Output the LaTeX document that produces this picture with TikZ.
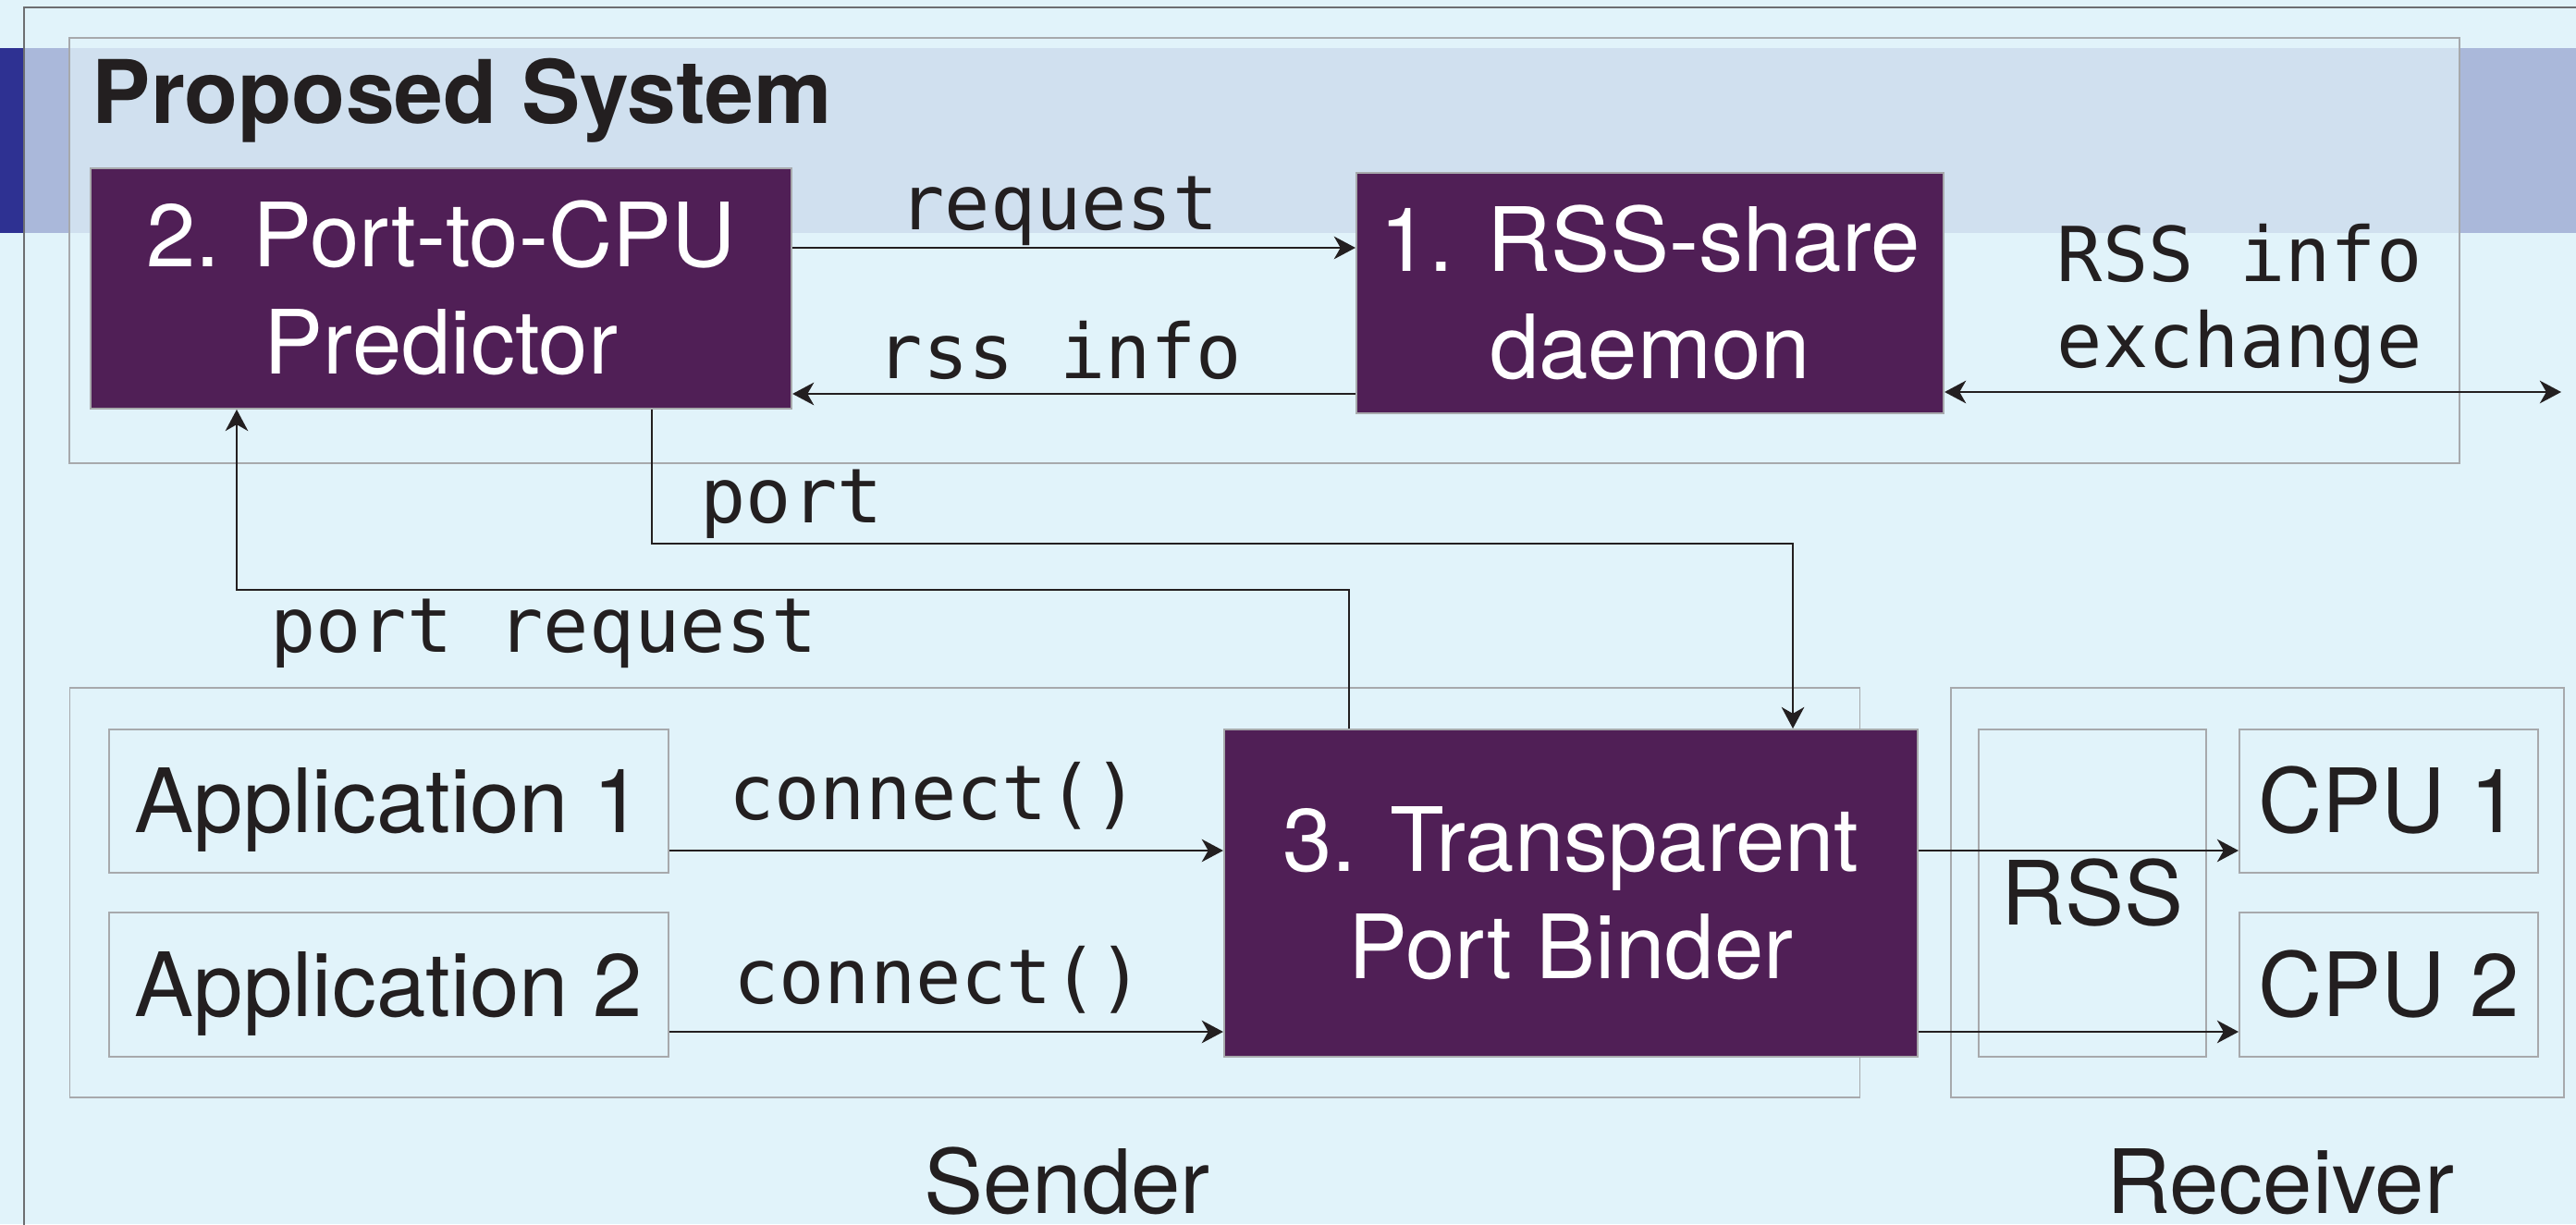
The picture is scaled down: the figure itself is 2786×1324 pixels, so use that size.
\documentclass[tikz,border=0pt]{standalone}
\usepackage{fontspec}
\setmainfont{TeX Gyre Heros}
\setmonofont{DejaVu Sans Mono}
\usetikzlibrary{arrows.meta}

\definecolor{bgblue}{HTML}{E1F3FA}
\definecolor{banddark}{HTML}{2E3192}
\definecolor{bandmid}{HTML}{AAB8DA}
\definecolor{bandlight}{HTML}{D0E0EF}
\definecolor{plum}{HTML}{501F56}
\definecolor{boxgray}{HTML}{A7A9AC}
\definecolor{framegray}{HTML}{6D6E71}
\definecolor{ink}{HTML}{231F20}

\newcommand\boxfont{\fontsize{27.3pt}{33pt}\selectfont}
\newcommand\codefont{\ttfamily\fontsize{23.3pt}{26.5pt}\selectfont}
\newcommand\titlefont{\bfseries\fontsize{27pt}{32pt}\selectfont}
% two centred lines; the reference point is the baseline of the first line
\newcommand\twoline[3]{\vtop{\baselineskip=#1\lineskiplimit=-100pt\lineskip=0pt
  \halign{\hfil##\hfil\cr#2\cr#3\cr}}}

\tikzset{
  >={Stealth[length=6.6pt,width=7pt,inset=2pt]},
  module/.style={draw=boxgray, line width=0.5pt, fill=plum, text=white,
    font=\boxfont, inner sep=0pt, text height=19.6pt, text depth=33pt},
  part/.style={draw=boxgray, line width=0.5pt, text=ink, font=\boxfont,
    inner sep=0pt, text height=19.6pt, text depth=0pt},
  group/.style={draw=boxgray, line width=0.5pt, inner sep=0pt},
  conn/.style={draw=ink, line width=0.6pt, ->},
  code/.style={font=\codefont, text=ink, anchor=base, inner sep=0pt},
  caption/.style={font=\boxfont, text=ink, anchor=base, inner sep=0pt},
}

\begin{document}
\begin{tikzpicture}[x=0.01cm, y=-0.01cm]
  \clip (0,0) rectangle (2786,1324);
  \fill[bgblue] (0,0) rectangle (2786,1324);

  % title band
  \fill[banddark]  (0,52)  rectangle (2786,252);
  \fill[bandmid]   (26,52) rectangle (2786,252);
  \fill[bandlight] (76,52) rectangle (2659,252);

  % outer frame
  \draw[framegray, line width=0.55pt] (26,1400) -- (26,8) -- (2900,8);

  % groups
  \node[group, minimum width=25.83cm, minimum height=4.60cm] (proposed) at (1367.5,271) {};
  \node[group, minimum width=19.35cm, minimum height=4.43cm] (sendergrp) at (1043.5,965.5) {};
  \node[group, minimum width=6.63cm, minimum height=4.43cm] (receivergrp) at (2441.5,965.5) {};

  \node[text=ink, font=\titlefont, anchor=base west, inner sep=0pt] (title) at (99,133) {Proposed System};

  % components
  \node[module, minimum width=7.58cm, minimum height=2.60cm] (pred) at (477,312)
    {\twoline{33pt}{2. Port-to-CPU}{Predictor}};
  \node[module, minimum width=6.35cm, minimum height=2.60cm] (daemon) at (1784.5,317)
    {\twoline{33pt}{1. RSS-share}{daemon}};
  \node[module, minimum width=7.50cm, minimum height=3.54cm] (binder) at (1699,966)
    {\twoline{33pt}{3. Transparent}{Port Binder}};

  \node[part, minimum width=6.05cm, minimum height=1.55cm] (app1) at (420.5,866.5) {Application 1};
  \node[part, minimum width=6.05cm, minimum height=1.56cm] (app2) at (420.5,1065) {Application 2};
  \node[part, minimum width=2.46cm, minimum height=3.54cm] (rss) at (2263,966) {RSS};
  \node[part, minimum width=3.23cm, minimum height=1.55cm] (cpu1) at (2583.5,866.5) {CPU 1};
  \node[part, minimum width=3.23cm, minimum height=1.56cm] (cpu2) at (2583.5,1065) {CPU 2};

  \coordinate (peer) at (2770,424);

  % connectors
  \draw[conn] (pred.east |- 0,268) -- (daemon.west |- 0,268);
  \draw[conn] (daemon.west |- 0,426) -- (pred.east |- 0,426);
  \draw[conn, <->] (daemon.east |- peer) -- (peer);
  \draw[conn] (pred.south -| 705,0) |- (1939,588) -- (binder.north -| 1939,0);
  \draw[conn] (binder.north -| 1459,0) |- (256,638) -- (pred.south -| 256,0);
  \draw[conn] (app1.east |- 0,920) -- (binder.west |- 0,920);
  \draw[conn] (app2.east |- 0,1116) -- (binder.west |- 0,1116);
  \draw[conn] (binder.east |- 0,920) -- (cpu1.west |- 0,920);
  \draw[conn] (binder.east |- 0,1116) -- (cpu2.west |- 0,1116);

  % connector labels
  \node[code] (lreq)   at (1145,248) {request};
  \node[code] (linfo)  at (1146,409) {rss info};
  \node[code] (lport)  at (856,565)  {port};
  \node[code] (lpreq)  at (588,705)  {port request};
  \node[code] (lconn1) at (1010,886) {connect()};
  \node[code] (lconn2) at (1015,1085) {connect()};
  \node[code] (lexch)  at (2422,304) {\twoline{26.5pt}{RSS info}{exchange}};

  % host captions
  \node[caption] (lsender)   at (1154,1312) {Sender};
  \node[caption] (lreceiver) at (2466,1312) {Receiver};
\end{tikzpicture}
\end{document}
